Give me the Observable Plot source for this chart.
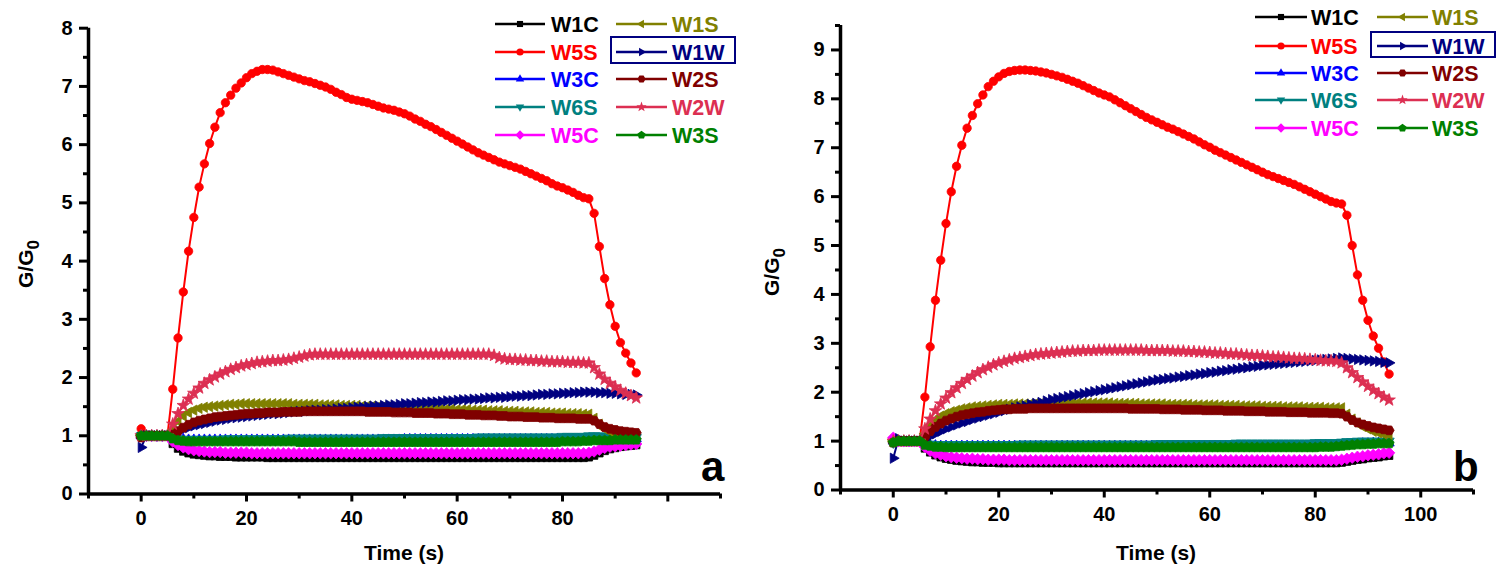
<!DOCTYPE html>
<html>
<head>
<meta charset="utf-8">
<script src="https://cdn.jsdelivr.net/npm/d3@7"></script>
<script src="https://cdn.jsdelivr.net/npm/@observablehq/plot@0.6"></script>
<style>
  html, body { margin: 0; padding: 0; background: #fff; }
  #wrap { position: relative; width: 1496px; height: 575px; overflow: hidden; font-family: "Liberation Sans", Arial, sans-serif; font-weight: bold; }
  .panel { position: absolute; top: 0; width: 748px; height: 575px; }
  .lg { position: absolute; top: 0; left: 0; pointer-events: none; }
  .ylab { position: absolute; font-size: 21px; white-space: nowrap; transform: translate(-50%, -50%) rotate(-90deg); }
  .ylab sub { font-size: 17px; vertical-align: -6px; }
  .xlab { position: absolute; font-size: 21px; white-space: nowrap; transform: translate(-50%, -50%); }
  .tag { position: absolute; font-size: 42px; line-height: 1; }
</style>
</head>
<body>
<div id="wrap">
  <div class="panel" id="pa" style="left:0px"></div>
  <div class="panel" id="pb" style="left:748px"></div>
</div>
<script>
// ---------- data ----------
const time = [0,1,2,3,4,5,6,7,8,9,10,11,12,13,14,15,16,17,18,19,20,21,22,23,24,25,26,27,28,29,
30,31,32,33,34,35,36,37,38,39,40,41,42,43,44,45,46,47,48,49,50,51,52,53,54,55,56,57,58,59,
60,61,62,63,64,65,66,67,68,69,70,71,72,73,74,75,76,77,78,79,80,81,82,83,84,85,86,87,88,89,
90,91,92,93,94];

const seriesNames = ["W1C","W5S","W3C","W6S","W5C","W1S","W1W","W2S","W2W","W3S"];
const seriesColors = ["#000000","#ff0000","#0000ff","#008080","#ff00ff","#808000","#000080","#800000","#dc2f52","#008000"];
const seriesSymbols = ["square","circle","triUp","triDown","diamond","triLeft","triRight","hexagon","star","pentagon"];

// panel a
const a_W1C = [1.00,1.00,1.00,1.00,1.00,1.00,0.86,0.78,0.73,0.70,
0.68,0.67,0.66,0.65,0.65,0.64,0.64,0.64,0.63,0.63,
0.63,0.63,0.63,0.63,0.62,0.62,0.62,0.62,0.62,0.62,
0.62,0.62,0.62,0.62,0.62,0.62,0.62,0.62,0.62,0.62,
0.62,0.62,0.62,0.62,0.62,0.62,0.62,0.62,0.62,0.62,
0.62,0.62,0.62,0.62,0.62,0.62,0.62,0.62,0.62,0.62,
0.62,0.62,0.62,0.62,0.62,0.62,0.62,0.62,0.62,0.62,
0.62,0.62,0.62,0.62,0.62,0.62,0.62,0.62,0.62,0.62,
0.62,0.62,0.62,0.62,0.62,0.63,0.66,0.70,0.74,0.77,
0.79,0.81,0.82,0.83,0.84];
const a_W5S = [1.12,1.00,1.00,1.00,1.00,1.01,1.80,2.68,3.47,4.17,
4.75,5.27,5.67,6.02,6.30,6.55,6.72,6.85,6.97,7.06,
7.15,7.22,7.26,7.29,7.29,7.28,7.25,7.22,7.19,7.16,
7.13,7.10,7.08,7.05,7.02,6.99,6.95,6.90,6.86,6.81,
6.78,6.76,6.74,6.72,6.69,6.66,6.63,6.61,6.59,6.56,
6.53,6.49,6.44,6.40,6.35,6.31,6.26,6.21,6.16,6.11,
6.06,6.01,5.96,5.91,5.86,5.82,5.78,5.74,5.70,5.67,
5.64,5.61,5.58,5.54,5.50,5.46,5.42,5.38,5.33,5.29,
5.26,5.22,5.18,5.13,5.09,5.07,4.82,4.25,3.70,3.25,
2.88,2.60,2.42,2.25,2.08];
const a_W3C = [1.00,1.00,1.00,1.00,1.00,1.00,0.97,0.95,0.94,0.93,
0.93,0.93,0.93,0.93,0.93,0.93,0.93,0.93,0.93,0.93,
0.93,0.93,0.93,0.93,0.93,0.93,0.93,0.93,0.93,0.93,
0.93,0.93,0.93,0.93,0.93,0.93,0.93,0.93,0.93,0.93,
0.93,0.93,0.93,0.93,0.93,0.93,0.93,0.93,0.93,0.93,
0.94,0.94,0.94,0.94,0.94,0.94,0.94,0.94,0.94,0.94,
0.94,0.94,0.94,0.94,0.94,0.94,0.94,0.94,0.94,0.94,
0.94,0.94,0.94,0.94,0.94,0.94,0.94,0.94,0.94,0.94,
0.94,0.94,0.94,0.94,0.94,0.95,0.95,0.95,0.95,0.95,
0.95,0.95,0.95,0.95,0.95];
const a_W6S = [1.00,1.00,1.00,1.00,1.00,1.00,0.97,0.95,0.94,0.94,
0.94,0.94,0.94,0.94,0.94,0.94,0.95,0.95,0.95,0.95,
0.95,0.95,0.95,0.95,0.95,0.95,0.95,0.95,0.96,0.96,
0.96,0.96,0.96,0.96,0.96,0.96,0.96,0.96,0.96,0.96,
0.96,0.96,0.96,0.96,0.96,0.96,0.97,0.97,0.97,0.97,
0.97,0.97,0.97,0.97,0.97,0.97,0.97,0.97,0.97,0.97,
0.97,0.97,0.97,0.97,0.98,0.98,0.98,0.98,0.98,0.98,
0.98,0.98,0.98,0.98,0.98,0.98,0.98,0.98,0.98,0.98,
0.99,0.99,0.99,0.99,0.99,1.00,1.00,1.00,0.99,0.99,
0.99,0.98,0.98,0.98,0.97];
const a_W5C = [1.00,1.00,1.00,1.00,1.00,1.00,0.90,0.84,0.80,0.77,
0.75,0.74,0.73,0.72,0.72,0.72,0.71,0.71,0.71,0.71,
0.71,0.70,0.70,0.70,0.70,0.70,0.70,0.70,0.70,0.70,
0.70,0.70,0.70,0.70,0.70,0.70,0.70,0.70,0.70,0.70,
0.70,0.70,0.70,0.70,0.70,0.70,0.70,0.70,0.70,0.70,
0.70,0.70,0.70,0.70,0.70,0.70,0.70,0.70,0.70,0.70,
0.70,0.70,0.70,0.70,0.70,0.70,0.70,0.70,0.70,0.70,
0.70,0.70,0.70,0.70,0.70,0.70,0.70,0.70,0.70,0.70,
0.70,0.70,0.70,0.70,0.70,0.71,0.73,0.76,0.79,0.81,
0.82,0.83,0.84,0.85,0.86];
const a_W1S = [1.00,1.00,1.00,1.00,1.00,1.00,1.10,1.25,1.34,1.40,
1.44,1.47,1.49,1.50,1.51,1.52,1.53,1.54,1.54,1.55,
1.55,1.55,1.55,1.55,1.55,1.55,1.55,1.55,1.55,1.54,
1.54,1.54,1.54,1.54,1.53,1.53,1.53,1.53,1.52,1.52,
1.52,1.52,1.51,1.51,1.51,1.50,1.50,1.50,1.49,1.49,
1.49,1.48,1.48,1.48,1.47,1.47,1.47,1.46,1.46,1.46,
1.45,1.45,1.45,1.44,1.44,1.44,1.43,1.43,1.43,1.42,
1.42,1.42,1.41,1.41,1.41,1.40,1.40,1.40,1.39,1.39,
1.39,1.38,1.38,1.38,1.37,1.37,1.30,1.20,1.12,1.07,
1.03,1.00,0.98,0.97,0.96];
const a_W1W = [0.80,1.00,1.00,1.00,1.00,1.00,1.02,1.07,1.11,1.14,
1.17,1.19,1.21,1.23,1.25,1.27,1.28,1.30,1.31,1.32,
1.33,1.34,1.35,1.36,1.37,1.38,1.38,1.39,1.40,1.41,
1.42,1.42,1.43,1.44,1.44,1.45,1.45,1.46,1.47,1.47,
1.48,1.49,1.49,1.50,1.51,1.51,1.52,1.53,1.53,1.54,
1.55,1.55,1.56,1.57,1.57,1.58,1.58,1.59,1.60,1.60,
1.61,1.62,1.62,1.63,1.63,1.64,1.65,1.65,1.66,1.66,
1.67,1.68,1.68,1.69,1.69,1.70,1.71,1.71,1.72,1.72,
1.73,1.73,1.74,1.74,1.75,1.75,1.75,1.74,1.74,1.73,
1.73,1.72,1.71,1.71,1.70];
const a_W2S = [0.97,1.00,1.00,1.00,1.00,1.00,1.02,1.08,1.14,1.19,
1.23,1.26,1.28,1.30,1.32,1.33,1.34,1.35,1.36,1.37,
1.38,1.38,1.39,1.39,1.40,1.40,1.40,1.41,1.41,1.41,
1.41,1.42,1.42,1.42,1.42,1.42,1.42,1.42,1.42,1.42,
1.42,1.42,1.42,1.41,1.41,1.41,1.41,1.41,1.40,1.40,
1.40,1.40,1.39,1.39,1.39,1.39,1.38,1.38,1.38,1.37,
1.37,1.37,1.36,1.36,1.36,1.35,1.35,1.35,1.34,1.34,
1.33,1.33,1.33,1.32,1.32,1.32,1.31,1.31,1.31,1.30,
1.30,1.30,1.30,1.29,1.29,1.29,1.26,1.20,1.15,1.12,
1.10,1.08,1.07,1.06,1.05];
const a_W2W = [1.00,1.00,1.00,1.00,1.00,1.00,1.20,1.38,1.52,1.63,
1.73,1.82,1.90,1.96,2.01,2.06,2.10,2.14,2.17,2.20,
2.22,2.24,2.26,2.27,2.28,2.29,2.29,2.30,2.31,2.33,
2.35,2.37,2.39,2.40,2.40,2.40,2.40,2.40,2.40,2.40,
2.40,2.40,2.40,2.40,2.40,2.40,2.40,2.40,2.40,2.40,
2.40,2.40,2.40,2.40,2.40,2.40,2.40,2.40,2.40,2.40,
2.40,2.40,2.40,2.40,2.40,2.40,2.40,2.38,2.34,2.32,
2.31,2.31,2.30,2.30,2.29,2.29,2.28,2.28,2.27,2.27,
2.27,2.26,2.26,2.26,2.25,2.25,2.17,2.06,1.97,1.90,
1.84,1.78,1.73,1.69,1.65];
const a_W3S = [1.00,1.00,1.00,1.00,1.00,1.00,0.95,0.92,0.91,0.90,
0.90,0.90,0.90,0.90,0.90,0.90,0.90,0.90,0.90,0.90,
0.90,0.90,0.90,0.90,0.90,0.90,0.90,0.90,0.90,0.90,
0.89,0.89,0.89,0.89,0.89,0.89,0.89,0.89,0.89,0.89,
0.89,0.89,0.89,0.89,0.89,0.89,0.89,0.89,0.89,0.89,
0.89,0.89,0.89,0.89,0.89,0.89,0.89,0.89,0.89,0.89,
0.89,0.89,0.89,0.89,0.89,0.89,0.89,0.89,0.89,0.89,
0.89,0.89,0.89,0.89,0.89,0.89,0.89,0.89,0.89,0.89,
0.90,0.90,0.90,0.90,0.91,0.91,0.92,0.92,0.92,0.92,
0.93,0.93,0.93,0.93,0.93];

// panel b
const b_W1C = [1.00,1.00,1.00,1.00,1.00,1.00,0.85,0.77,0.71,0.67,
0.64,0.62,0.60,0.59,0.58,0.57,0.57,0.56,0.56,0.56,
0.55,0.55,0.55,0.55,0.55,0.55,0.55,0.55,0.55,0.55,
0.55,0.55,0.55,0.55,0.55,0.55,0.55,0.55,0.55,0.55,
0.55,0.55,0.55,0.55,0.55,0.55,0.55,0.55,0.55,0.55,
0.55,0.55,0.55,0.55,0.55,0.55,0.55,0.55,0.55,0.55,
0.55,0.55,0.55,0.55,0.55,0.55,0.55,0.55,0.55,0.55,
0.55,0.55,0.55,0.55,0.55,0.55,0.55,0.55,0.55,0.55,
0.55,0.55,0.55,0.55,0.55,0.56,0.58,0.60,0.62,0.63,
0.65,0.66,0.67,0.69,0.70];
const b_W5S = [1.00,1.00,1.00,1.00,1.00,1.00,1.90,2.93,3.88,4.70,
5.45,6.10,6.62,7.05,7.40,7.66,7.90,8.08,8.25,8.36,
8.45,8.52,8.56,8.58,8.59,8.59,8.58,8.57,8.55,8.53,
8.50,8.47,8.44,8.40,8.36,8.32,8.27,8.22,8.17,8.12,
8.08,8.04,7.98,7.92,7.86,7.80,7.74,7.68,7.62,7.57,
7.52,7.47,7.42,7.38,7.33,7.28,7.23,7.18,7.12,7.06,
7.01,6.95,6.90,6.85,6.80,6.75,6.70,6.65,6.60,6.55,
6.50,6.45,6.41,6.37,6.33,6.29,6.25,6.20,6.15,6.10,
6.05,6.00,5.95,5.90,5.87,5.85,5.62,5.00,4.40,3.88,
3.47,3.15,2.90,2.62,2.37];
const b_W3C = [1.00,1.00,1.00,1.00,1.00,1.00,0.95,0.92,0.91,0.90,
0.90,0.90,0.90,0.90,0.90,0.90,0.90,0.90,0.90,0.90,
0.90,0.90,0.90,0.90,0.90,0.90,0.90,0.90,0.90,0.90,
0.90,0.90,0.90,0.90,0.90,0.90,0.90,0.90,0.90,0.90,
0.90,0.90,0.90,0.90,0.90,0.90,0.90,0.90,0.90,0.90,
0.90,0.90,0.90,0.90,0.90,0.90,0.90,0.90,0.90,0.90,
0.90,0.90,0.90,0.90,0.90,0.90,0.90,0.90,0.90,0.90,
0.90,0.90,0.90,0.90,0.90,0.90,0.90,0.90,0.90,0.90,
0.91,0.91,0.91,0.91,0.91,0.92,0.93,0.94,0.94,0.95,
0.95,0.96,0.96,0.96,0.96];
const b_W6S = [0.97,1.00,1.00,1.00,1.00,1.00,0.96,0.94,0.93,0.93,
0.93,0.93,0.93,0.93,0.93,0.93,0.93,0.93,0.93,0.93,
0.93,0.93,0.93,0.93,0.94,0.94,0.94,0.94,0.94,0.94,
0.94,0.94,0.94,0.94,0.94,0.94,0.94,0.94,0.94,0.94,
0.94,0.94,0.94,0.94,0.94,0.94,0.94,0.94,0.94,0.94,
0.95,0.95,0.95,0.95,0.95,0.95,0.95,0.95,0.95,0.95,
0.95,0.95,0.95,0.95,0.95,0.96,0.96,0.96,0.96,0.96,
0.96,0.96,0.96,0.96,0.96,0.96,0.96,0.96,0.96,0.96,
0.97,0.97,0.97,0.97,0.97,0.98,0.99,0.99,1.00,1.00,
1.00,1.00,1.00,1.00,1.00];
const b_W5C = [1.07,1.00,1.00,1.00,1.00,1.00,0.88,0.80,0.75,0.72,
0.69,0.67,0.66,0.65,0.64,0.64,0.63,0.63,0.62,0.62,
0.62,0.62,0.61,0.61,0.61,0.61,0.61,0.61,0.61,0.61,
0.61,0.61,0.61,0.61,0.61,0.61,0.61,0.61,0.61,0.61,
0.61,0.61,0.61,0.61,0.61,0.61,0.61,0.61,0.61,0.61,
0.61,0.61,0.61,0.61,0.61,0.61,0.61,0.61,0.61,0.61,
0.61,0.61,0.61,0.61,0.61,0.61,0.61,0.61,0.61,0.61,
0.61,0.61,0.61,0.61,0.61,0.61,0.61,0.61,0.61,0.61,
0.61,0.61,0.61,0.61,0.61,0.62,0.64,0.66,0.68,0.69,
0.71,0.72,0.73,0.75,0.76];
const b_W1S = [1.00,1.00,1.00,1.00,1.00,1.00,1.15,1.32,1.43,1.51,
1.56,1.60,1.63,1.66,1.68,1.70,1.71,1.72,1.73,1.74,
1.75,1.75,1.75,1.76,1.76,1.76,1.76,1.77,1.77,1.77,
1.77,1.77,1.78,1.78,1.78,1.78,1.78,1.78,1.78,1.78,
1.78,1.78,1.77,1.77,1.77,1.77,1.77,1.76,1.76,1.76,
1.76,1.76,1.75,1.75,1.75,1.75,1.75,1.74,1.74,1.74,
1.74,1.74,1.73,1.73,1.73,1.73,1.72,1.72,1.72,1.72,
1.71,1.71,1.71,1.71,1.70,1.70,1.70,1.70,1.69,1.69,
1.69,1.69,1.68,1.68,1.68,1.68,1.55,1.45,1.37,1.30,
1.25,1.20,1.17,1.14,1.12];
const b_W1W = [0.65,1.05,1.00,1.00,1.00,1.00,1.03,1.10,1.15,1.20,
1.25,1.29,1.33,1.37,1.40,1.44,1.47,1.50,1.53,1.56,
1.59,1.62,1.65,1.68,1.70,1.72,1.75,1.77,1.79,1.82,
1.85,1.87,1.89,1.91,1.93,1.95,1.97,1.99,2.01,2.03,
2.05,2.07,2.09,2.11,2.13,2.15,2.17,2.19,2.21,2.23,
2.25,2.26,2.28,2.29,2.31,2.32,2.34,2.35,2.37,2.38,
2.40,2.41,2.43,2.44,2.46,2.47,2.49,2.50,2.52,2.53,
2.55,2.56,2.57,2.58,2.59,2.60,2.61,2.62,2.63,2.64,
2.65,2.66,2.67,2.68,2.69,2.70,2.69,2.68,2.67,2.66,
2.65,2.64,2.63,2.61,2.60];
const b_W2S = [0.97,1.00,1.00,1.00,1.00,1.00,1.08,1.20,1.29,1.36,
1.42,1.46,1.50,1.53,1.55,1.57,1.59,1.60,1.62,1.63,
1.64,1.65,1.65,1.66,1.66,1.66,1.67,1.67,1.67,1.67,
1.67,1.67,1.67,1.67,1.67,1.67,1.67,1.67,1.67,1.67,
1.67,1.67,1.67,1.67,1.67,1.66,1.66,1.66,1.66,1.66,
1.66,1.65,1.65,1.65,1.65,1.64,1.64,1.64,1.64,1.63,
1.63,1.63,1.63,1.62,1.62,1.62,1.62,1.61,1.61,1.61,
1.61,1.60,1.60,1.60,1.60,1.59,1.59,1.59,1.59,1.58,
1.58,1.58,1.58,1.57,1.57,1.56,1.50,1.43,1.38,1.34,
1.31,1.28,1.26,1.24,1.22];
const b_W2W = [1.00,1.00,1.00,1.00,1.00,1.00,1.25,1.45,1.62,1.76,
1.88,1.99,2.09,2.18,2.26,2.33,2.40,2.46,2.51,2.56,
2.60,2.63,2.66,2.69,2.71,2.73,2.75,2.77,2.78,2.79,
2.80,2.81,2.82,2.83,2.84,2.84,2.85,2.85,2.85,2.86,
2.86,2.86,2.86,2.86,2.86,2.86,2.86,2.86,2.85,2.85,
2.85,2.85,2.85,2.84,2.84,2.84,2.83,2.83,2.82,2.82,
2.81,2.80,2.80,2.79,2.78,2.78,2.77,2.76,2.75,2.75,
2.74,2.73,2.72,2.72,2.71,2.70,2.69,2.69,2.68,2.67,
2.66,2.65,2.64,2.64,2.63,2.60,2.50,2.40,2.30,2.21,
2.12,2.04,1.97,1.90,1.84];
const b_W3S = [0.97,1.00,1.00,1.00,1.00,1.00,0.92,0.90,0.88,0.88,
0.87,0.87,0.87,0.87,0.87,0.87,0.87,0.87,0.87,0.87,
0.87,0.87,0.87,0.87,0.87,0.87,0.87,0.87,0.87,0.87,
0.87,0.87,0.87,0.87,0.87,0.87,0.87,0.87,0.87,0.87,
0.87,0.87,0.87,0.87,0.87,0.87,0.87,0.87,0.87,0.87,
0.87,0.87,0.87,0.87,0.87,0.87,0.87,0.87,0.87,0.87,
0.87,0.87,0.87,0.87,0.87,0.87,0.87,0.87,0.87,0.87,
0.87,0.87,0.87,0.87,0.87,0.87,0.87,0.87,0.87,0.87,
0.87,0.88,0.88,0.88,0.89,0.90,0.91,0.92,0.93,0.93,
0.94,0.94,0.95,0.95,0.95];

// tick values
const xMajorTicks = [0,20,40,60,80,100];
const xMinorTicks = [-10,10,30,50,70,90,110];
const xLabelsA = [0,20,40,60,80];
const xLabelsB = [0,20,40,60,80,100];
const yMajorA = [0,1,2,3,4,5,6,7,8];
const yMinorA = [0.5,1.5,2.5,3.5,4.5,5.5,6.5,7.5];
const yMajorB = [0,1,2,3,4,5,6,7,8,9];
const yMinorB = [0.5,1.5,2.5,3.5,4.5,5.5,6.5,7.5,8.5,9.5];

// ---------- symbols ----------
function polySymbol(pts) {
  return {draw(ctx, size) {
    const r = Math.sqrt(size / Math.PI);
    ctx.moveTo(pts[0][0] * r, pts[0][1] * r);
    for (let i = 1; i < pts.length; ++i) ctx.lineTo(pts[i][0] * r, pts[i][1] * r);
    ctx.closePath();
  }};
}
function regular(n, R, start) {
  const p = [];
  for (let i = 0; i < n; ++i) { const a = start + i * 2 * Math.PI / n; p.push([R * Math.cos(a), R * Math.sin(a)]); }
  return p;
}
function starPts(R, r0) {
  const p = [];
  for (let i = 0; i < 10; ++i) { const a = -Math.PI / 2 + i * Math.PI / 5; const rr = i % 2 ? r0 : R; p.push([rr * Math.cos(a), rr * Math.sin(a)]); }
  return p;
}
const SYM = {
  square: polySymbol(regular(4, 1.2, Math.PI / 4)),
  circle: {draw(ctx, size) { const r = Math.sqrt(size / Math.PI); ctx.moveTo(r, 0); ctx.arc(0, 0, r, 0, 2 * Math.PI); }},
  triUp: polySymbol(regular(3, 1.35, -Math.PI / 2)),
  triDown: polySymbol(regular(3, 1.35, Math.PI / 2)),
  diamond: polySymbol(regular(4, 1.3, -Math.PI / 2)),
  triLeft: polySymbol(regular(3, 1.35, Math.PI)),
  triRight: polySymbol(regular(3, 1.35, 0)),
  hexagon: polySymbol(regular(6, 1.15, 0)),
  star: polySymbol(starPts(1.5, 0.6)),
  pentagon: polySymbol(regular(5, 1.2, -Math.PI / 2))
};

// ---------- chart ----------
function makePanel(cfg) {
  const marks = [];
  seriesNames.forEach((name, i) => {
    const rows = cfg.values[i].map((v, j) => ({t: time[j], v, s: name}));
    marks.push(Plot.line(rows, {x: "t", y: "v", stroke: seriesColors[i], strokeWidth: 2}));
    marks.push(Plot.dot(rows, {x: "t", y: "v", symbol: SYM[seriesSymbols[i]], fill: seriesColors[i], stroke: seriesColors[i], strokeWidth: 0.8, r: seriesSymbols[i] === "circle" ? 4.2 : 4.4}));
  });
  marks.push(
    Plot.axisX({ticks: xMajorTicks, tickSize: 8, strokeWidth: 3, tickFormat: () => "", label: null}),
    Plot.axisX({ticks: xMinorTicks, tickSize: 5, strokeWidth: 3, tickFormat: () => "", label: null}),
    Plot.axisX({ticks: cfg.xLabels, tickSize: 0, tickPadding: 17, fontSize: 20, fontWeight: "bold", label: null}),
    Plot.axisY({ticks: cfg.yMajor, tickSize: 9, strokeWidth: 3, tickFormat: () => "", label: null}),
    Plot.axisY({ticks: cfg.yMinor, tickSize: 5, strokeWidth: 3, tickFormat: () => "", label: null}),
    Plot.axisY({ticks: cfg.yMajor, tickSize: 0, tickPadding: 16, fontSize: 20, fontWeight: "bold", label: null}),
    Plot.ruleX([-10], {stroke: "#000", strokeWidth: 3.5}),
    Plot.ruleY([0], {stroke: "#000", strokeWidth: 3.5})
  );
  return Plot.plot({
    width: 748, height: 575,
    marginLeft: cfg.ml, marginRight: cfg.mr, marginTop: cfg.mt, marginBottom: cfg.mb,
    x: {domain: [-10, 110], label: null},
    y: {domain: cfg.yDomain, label: null},
    style: {fontFamily: '"Liberation Sans", Arial, sans-serif', fontWeight: "bold", fontSize: "20px", color: "#000", background: "#fff", overflow: "visible"},
    marks
  });
}

function addLegend(container, L) {
  const svg = d3.select(container).append("svg").attr("class", "lg").attr("width", 748).attr("height", 160);
  seriesNames.forEach((name, i) => {
    const col = i < 5 ? 0 : 1;
    const y = L.rows[i % 5];
    const c = L.cols[col];
    svg.append("line").attr("x1", c.x1).attr("x2", c.x2).attr("y1", y).attr("y2", y)
      .attr("stroke", seriesColors[i]).attr("stroke-width", 2.4);
    svg.append("path").attr("d", d3.symbol(SYM[seriesSymbols[i]], Math.PI * 3.6 * 3.6)())
      .attr("transform", `translate(${(c.x1 + c.x2) / 2},${y})`).attr("fill", seriesColors[i]);
    svg.append("text").attr("x", c.tx).attr("y", y + 7.8).attr("fill", seriesColors[i])
      .attr("font-family", '"Liberation Sans", Arial, sans-serif').attr("font-weight", "bold").attr("font-size", 21.5)
      .text(name);
  });
  svg.append("rect").attr("x", L.box[0]).attr("y", L.box[1]).attr("width", L.box[2]).attr("height", L.box[3])
    .attr("fill", "none").attr("stroke", "#000080").attr("stroke-width", 2);
}

const pa = document.getElementById("pa");
const pb = document.getElementById("pb");

pa.appendChild(makePanel({
  values: [a_W1C, a_W5S, a_W3C, a_W6S, a_W5C, a_W1S, a_W1W, a_W2S, a_W2W, a_W3S],
  yDomain: [0, 8], yMajor: yMajorA, yMinor: yMinorA, xLabels: xLabelsA,
  ml: 88, mr: 28, mt: 27.7, mb: 81.5
}));
pb.appendChild(makePanel({
  values: [b_W1C, b_W5S, b_W3C, b_W6S, b_W5C, b_W1S, b_W1W, b_W2S, b_W2W, b_W3S],
  yDomain: [0, 9.5], yMajor: yMajorB, yMinor: yMinorB, xLabels: xLabelsB,
  ml: 92, mr: 23, mt: 25, mb: 85.5
}));

addLegend(pa, {rows: [24, 52, 79, 107, 135], cols: [{x1: 495, x2: 545, tx: 551}, {x1: 616, x2: 667, tx: 672}], box: [611, 37, 124, 26]});
addLegend(pb, {rows: [17, 46, 73, 100, 128], cols: [{x1: 507, x2: 559, tx: 563}, {x1: 629, x2: 680, tx: 684}], box: [623, 32, 124, 25]});

function addHtml(parent, cls, html, left, top) {
  const d = document.createElement("div");
  d.className = cls; d.innerHTML = html;
  d.style.left = left + "px"; d.style.top = top + "px";
  parent.appendChild(d);
  return d;
}
addHtml(pa, "ylab", "G/G<sub>0</sub>", 29, 264);
addHtml(pb, "ylab", "G/G<sub>0</sub>", 27, 272);
addHtml(pa, "xlab", "Time (s)", 404, 553);
addHtml(pb, "xlab", "Time (s)", 408, 553);
addHtml(pa, "tag", "a", 701, 446);
addHtml(pb, "tag", "b", 705, 446);
</script>
</body>
</html>
